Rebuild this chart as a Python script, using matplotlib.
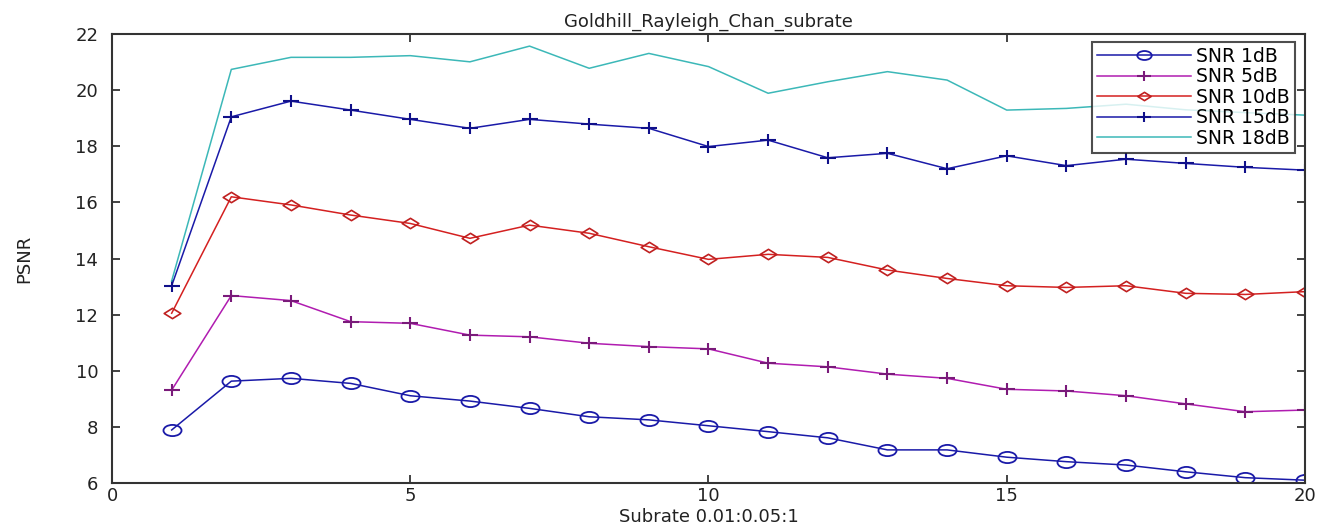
import matplotlib
matplotlib.use("Agg")
import matplotlib.pyplot as plt
from matplotlib.path import Path
from matplotlib.transforms import Affine2D

plt.rcParams['font.family'] = ['DejaVu Sans']

# PSNR per subrate step for each channel SNR
subrate = list(range(1, 21))
psnr_1db = [7.89, 9.63, 9.73, 9.55, 9.11, 8.92, 8.66, 8.36, 8.25, 8.04,
            7.83, 7.61, 7.18, 7.18, 6.92, 6.76, 6.64, 6.40, 6.19, 6.10]
psnr_5db = [9.31, 12.68, 12.50, 11.75, 11.69, 11.27, 11.21, 10.98, 10.86, 10.78,
            10.27, 10.14, 9.88, 9.73, 9.34, 9.28, 9.11, 8.82, 8.54, 8.60]
psnr_10db = [12.05, 16.20, 15.91, 15.55, 15.25, 14.72, 15.19, 14.90, 14.42, 13.97,
             14.15, 14.04, 13.59, 13.29, 13.03, 12.97, 13.03, 12.76, 12.72, 12.82]
psnr_15db = [13.03, 19.05, 19.61, 19.29, 18.96, 18.64, 18.96, 18.79, 18.64, 17.99,
             18.22, 17.59, 17.75, 17.20, 17.66, 17.31, 17.54, 17.39, 17.25, 17.15]
psnr_18db = [13.20, 20.74, 21.17, 21.17, 21.23, 21.01, 21.57, 20.78, 21.31, 20.84,
             19.89, 20.30, 20.66, 20.36, 19.29, 19.35, 19.50, 19.30, 19.20, 19.11]
labels = ['SNR 1dB', 'SNR 5dB', 'SNR 10dB', 'SNR 15dB', 'SNR 18dB']

# squashed markers (the figure is stretched horizontally)
squash = Affine2D().scale(1.0, 0.62)
ellipse = squash.transform_path(Path.unit_circle())
diamond = squash.transform_path(Path([(0, -1), (1, 0), (0, 1), (-1, 0), (0, -1)],
                                     [1, 2, 2, 2, 79]))
plus = Path([(-1, 0), (1, 0), (0, -0.7), (0, 0.7)], [1, 2, 1, 2])

fig = plt.figure(figsize=(13.32, 5.32), dpi=100)
ax = fig.add_axes([0.0841, 0.0921, 0.8956, 0.8439])

ax.plot(subrate, psnr_1db, color='#1a1aa8', lw=1.1, marker=ellipse, ms=13,
        mfc='none', mec='#1a1aa8', mew=1.3, label=labels[0])
ax.plot(subrate, psnr_5db, color='#b01cb0', lw=1.1, marker=plus, ms=12,
        mec='#7a1a7a', mew=1.5, label=labels[1])
ax.plot(subrate, psnr_10db, color='#d42020', lw=1.1, marker=diamond, ms=12,
        mfc='none', mec='#c02020', mew=1.2, label=labels[2])
ax.plot(subrate, psnr_15db, color='#1a1aa8', lw=1.1, marker=plus, ms=12,
        mec='#10108a', mew=1.5, label=labels[3])
ax.plot(subrate, psnr_18db, color='#3cb8b8', lw=1.1, label=labels[4])

ax.set_xlim(0, 20)
ax.set_ylim(6, 22)
ax.set_xticks([0, 5, 10, 15, 20])
ax.set_yticks(range(6, 23, 2))
ax.tick_params(direction='in', top=True, right=True, length=6, width=1.2,
               labelsize=13, colors='#222222')
ax.tick_params(axis='y', pad=10)
ax.tick_params(axis='x', pad=3)
for s in ax.spines.values():
    s.set_linewidth(1.5)
    s.set_color('#333333')

ax.set_title('Goldhill_Rayleigh_Chan_subrate', fontsize=13, pad=5, color='#222222')
ax.set_xlabel('Subrate 0.01:0.05:1', fontsize=13, labelpad=2, color='#222222')
ax.set_ylabel('PSNR', fontsize=13, labelpad=30, color='#222222')

leg = ax.legend(loc='upper right', fontsize=13.5, frameon=True, fancybox=False,
                edgecolor='#222222', borderpad=0.25, labelspacing=0.08,
                handlelength=5.0, handletextpad=0.3, markerscale=0.8,
                borderaxespad=0, bbox_to_anchor=(0.9915, 0.982))
leg.get_frame().set_linewidth(1.5)

fig.savefig('out.png', dpi=100)
